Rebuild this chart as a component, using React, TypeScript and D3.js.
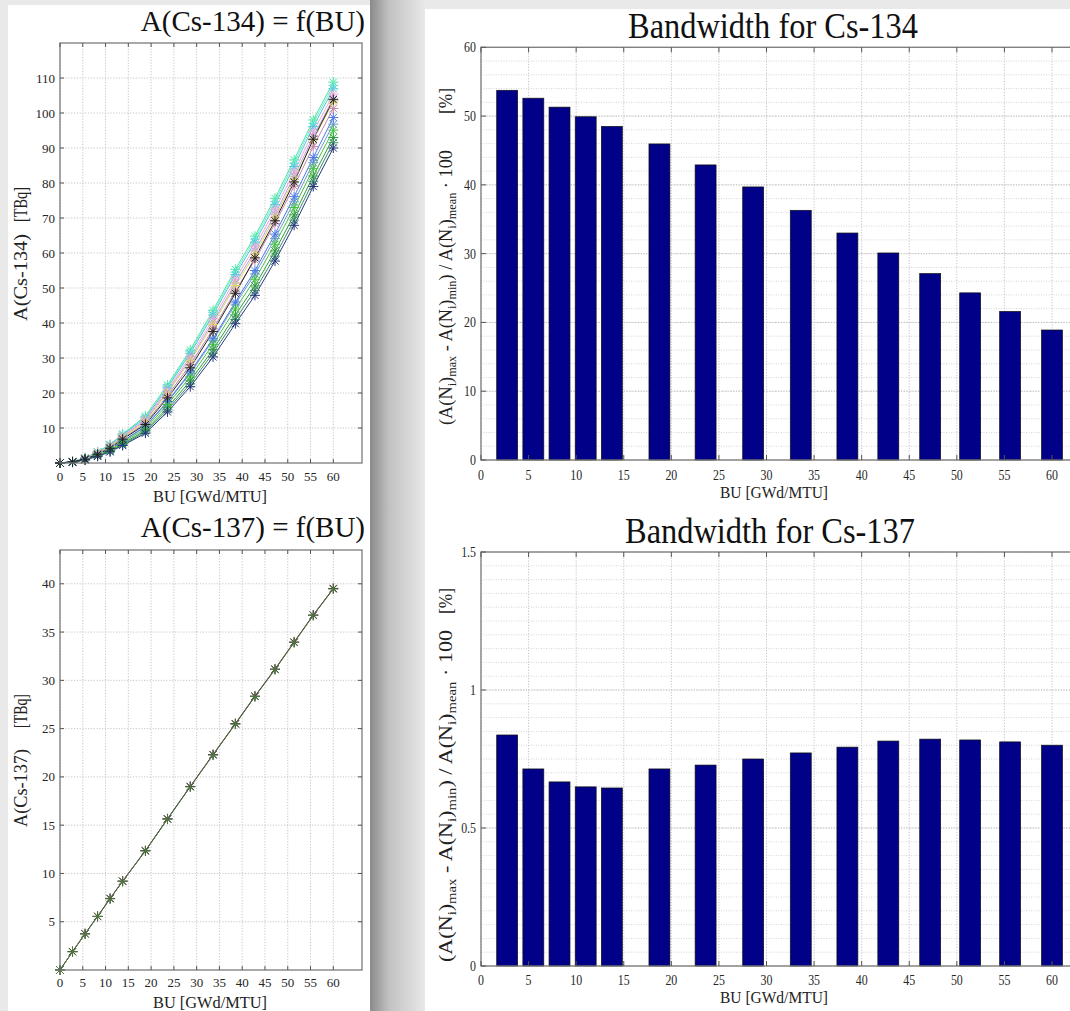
import React from "react";
import * as d3 from "d3";

const SERIF = "'Liberation Serif', 'DejaVu Serif', serif";

// ---------- data ----------
const buPoints = [0, 2.75, 5.5, 8.25, 11, 13.75, 18.75, 23.6, 28.6, 33.6, 38.5, 42.8, 47.2, 51.4, 55.6, 60];
const barBU = [2.75, 5.5, 8.25, 11, 13.75, 18.75, 23.6, 28.6, 33.6, 38.5, 42.8, 47.2, 51.4, 55.6, 60];

const cs134Bandwidth = [53.75, 52.6, 51.3, 49.9, 48.5, 45.95, 42.9, 39.7, 36.3, 33.0, 30.1, 27.1, 24.3, 21.6, 18.9];
const cs137Bandwidth = [0.837, 0.714, 0.667, 0.649, 0.645, 0.714, 0.728, 0.75, 0.772, 0.793, 0.815, 0.822, 0.819, 0.812, 0.8];

const cs134_s01 = [0, 0.42, 1.5, 3.2, 5.3, 8.3, 13.4, 22.3, 32.3, 43.6, 55.3, 64.8, 75.6, 86.6, 98.0, 108.8];
const cs134_s02 = [0, 0.41, 1.47, 3.14, 5.2, 8.14, 13.2, 21.9, 31.8, 43.0, 54.5, 64.0, 74.7, 85.7, 97.1, 107.9];
const cs134_s03 = [0, 0.4, 1.44, 3.07, 5.09, 7.97, 12.9, 21.5, 31.3, 42.3, 53.8, 63.1, 73.8, 84.7, 96.1, 106.9];
const cs134_s04 = [0, 0.39, 1.39, 2.97, 4.92, 7.71, 12.5, 20.9, 30.4, 41.2, 52.5, 61.8, 72.4, 83.2, 94.6, 105.4];
const cs134_s05 = [0, 0.38, 1.34, 2.88, 4.78, 7.48, 12.2, 20.4, 29.7, 40.3, 51.4, 60.6, 71.1, 81.9, 93.3, 104.1];
const cs134_s06 = [0, 0.37, 1.31, 2.81, 4.67, 7.31, 11.9, 20.0, 29.2, 39.6, 50.7, 59.7, 70.2, 81.0, 92.3, 103.2];
const cs134_s07 = [0, 0.35, 1.25, 2.68, 4.46, 6.98, 11.4, 19.2, 28.1, 38.3, 49.1, 58.0, 68.4, 79.1, 90.4, 101.3];
const cs134_s08 = [0, 0.3, 1.1, 2.37, 3.96, 6.19, 10.3, 17.4, 25.6, 35.1, 45.4, 54.0, 64.1, 74.6, 85.8, 96.8];
const cs134_s09 = [0, 0.31, 1.1, 2.4, 4.0, 6.3, 10.5, 17.6, 26.0, 35.5, 46.0, 55.0, 65.4, 76.1, 87.3, 98.7];
const cs134_s10 = [0, 0.29, 1.04, 2.25, 3.77, 5.89, 9.8, 16.7, 24.6, 33.9, 44.0, 52.5, 62.5, 73.0, 84.1, 95.1];
const cs134_s11 = [0, 0.27, 0.97, 2.11, 3.54, 5.53, 9.3, 15.8, 23.5, 32.4, 42.3, 50.6, 60.6, 70.9, 82.0, 93.0];
const cs134_s12 = [0, 0.25, 0.92, 2.0, 3.37, 5.26, 8.9, 15.2, 22.6, 31.4, 41.0, 49.3, 59.1, 69.4, 80.5, 91.5];
const cs134_s13 = [0, 0.24, 0.87, 1.9, 3.2, 5.0, 8.5, 14.6, 21.8, 30.3, 39.8, 47.9, 57.7, 67.9, 79.0, 90.0];
const cs134_s14 = [0, 0.33, 1.1, 2.5, 4.2, 6.8, 11.0, 18.6, 27.2, 37.6, 48.5, 58.6, 69.2, 80.3, 92.5, 103.8];

const cs134Series = [cs134_s01, cs134_s02, cs134_s03, cs134_s04, cs134_s05, cs134_s06, cs134_s07, cs134_s08, cs134_s09, cs134_s10, cs134_s11, cs134_s12, cs134_s13, cs134_s14];
const cs134Colors = ["#3fe89a", "#86e8d2", "#48c8e0", "#f2a8d2", "#b8a2e8", "#e2d860", "#c486a8", "#6c9cc8", "#4a78e8", "#44c244", "#2e9c3a", "#3a8a6a", "#28397e", "#222222"];

const cs137_pink = [0, 1.91, 3.76, 5.57, 7.42, 9.22, 12.37, 15.67, 19.02, 22.33, 25.53, 28.38, 31.18, 33.98, 36.78, 39.53];
const cs137_black = [0, 1.9, 3.75, 5.55, 7.4, 9.2, 12.35, 15.65, 19.0, 22.3, 25.5, 28.35, 31.15, 33.95, 36.75, 39.5];
const cs137_green = [0, 1.89, 3.74, 5.54, 7.38, 9.18, 12.33, 15.62, 18.97, 22.27, 25.47, 28.32, 31.12, 33.92, 36.72, 39.47];
const cs137Series = [cs137_pink, cs137_black, cs137_green];
const cs137Colors = ["#d070a8", "#303030", "#4a7a3c"];

const leftXTicks = [0, 5, 10, 15, 20, 25, 30, 35, 40, 45, 50, 55, 60];
const cs134YTicks = [10, 20, 30, 40, 50, 60, 70, 80, 90, 100, 110];
const cs137YTicks = [5, 10, 15, 20, 25, 30, 35, 40];
const barXTicks = [0, 5, 10, 15, 20, 25, 30, 35, 40, 45, 50, 55, 60, 65];
const bw134YTicks = [0, 10, 20, 30, 40, 50, 60];
const bw137YTicks = [0, 0.5, 1, 1.5];

function star(r: number) {
  const d = r * 0.72;
  return `M${-r},0H${r}M0,${-r}V${r}M${-d},${-d}L${d},${d}M${-d},${d}L${d},${-d}`;
}

function CurveChart(props: any) {
  const { top, bottom, yMax, yTicks, series, colors, title, titleY, labMain, labUnit, xTickY, xLabelY } = props;
  const x = d3.scaleLinear().domain([0, 66.3]).range([60, 362]);
  const y = d3.scaleLinear().domain([0, yMax]).range([bottom, top]);
  const line = d3.line<number>().x((_, i) => x(buPoints[i])).y((v) => y(v));
  const L = 60, R = 362;
  return (
    <g>
      {leftXTicks.map((t) => (
        <line key={"gx" + t} x1={x(t)} x2={x(t)} y1={top} y2={bottom} stroke="#c6c6c6" strokeDasharray="1.2,1.6" />
      ))}
      {yTicks.map((t: number) => (
        <line key={"gy" + t} x1={L} x2={R} y1={y(t)} y2={y(t)} stroke="#c6c6c6" strokeDasharray="1.2,1.6" />
      ))}
      {series.map((s: number[], k: number) => (
        <path key={"l" + k} d={line(s) || ""} fill="none" stroke={colors[k]} strokeWidth={1} />
      ))}
      {series.map((s: number[], k: number) =>
        s.map((v, i) => (
          <path key={"m" + k + "-" + i} transform={`translate(${x(buPoints[i])},${y(v)})`} d={star(5)} fill="none" stroke={colors[k]} strokeWidth={1} />
        ))
      )}
      <rect x={L} y={top} width={R - L} height={bottom - top} fill="none" stroke="#7c7c7c" strokeWidth={1.3} />
      {leftXTicks.map((t) => (
        <g key={"tx" + t}>
          <line x1={x(t)} x2={x(t)} y1={bottom} y2={bottom - 4} stroke="#555" />
          <line x1={x(t)} x2={x(t)} y1={top} y2={top + 4} stroke="#555" />
          <text x={x(t)} y={xTickY} textAnchor="middle" fontSize={13} fontFamily={SERIF} fill="#262626">{t}</text>
        </g>
      ))}
      {yTicks.map((t: number) => (
        <g key={"ty" + t}>
          <line x1={L} x2={L + 4} y1={y(t)} y2={y(t)} stroke="#555" />
          <line x1={R} x2={R - 4} y1={y(t)} y2={y(t)} stroke="#555" />
          <text x={55} y={y(t)} dy="0.35em" textAnchor="end" fontSize={13} fontFamily={SERIF} fill="#262626">{t}</text>
        </g>
      ))}
      <text x={365} y={titleY} textAnchor="end" fontSize={29} fontFamily={SERIF} fill="#111">{title}</text>
      <text x={210} y={xLabelY} textAnchor="middle" fontSize={16} fontFamily={SERIF} fill="#222" textLength={114} lengthAdjust="spacingAndGlyphs">BU [GWd/MTU]</text>
      <text transform={`translate(27,${labMain[0]}) rotate(-90)`} fontSize={18} fontFamily={SERIF} fill="#222" textLength={labMain[1]} lengthAdjust="spacingAndGlyphs">{labMain[2]}</text>
      <text transform={`translate(27,${labUnit[0]}) rotate(-90)`} fontSize={18} fontFamily={SERIF} fill="#222" textLength={labUnit[1]} lengthAdjust="spacingAndGlyphs">[TBq]</text>
    </g>
  );
}

function BarChart(props: any) {
  const { top, bottom, yMax, yTicks, minorStep, values, title, titleX, titleY, xTickY, xLabelY, labStart, labLen, unitStart, unitLen } = props;
  const x = d3.scaleLinear().domain([0, 60]).range([481, 1052]);
  const y = d3.scaleLinear().domain([0, yMax]).range([bottom, top]);
  const L = x(0), R = x(65);
  const bw = x(2.2) - x(0);
  const minors = d3.range(0, yMax + minorStep / 2, minorStep);
  return (
    <g>
      {minors.map((t, i) => (
        <line key={"mn" + i} x1={L} x2={R} y1={y(t)} y2={y(t)} stroke="#d4d4d4" strokeDasharray="1,1.5" />
      ))}
      {barXTicks.map((t) => (
        <line key={"gx" + t} x1={x(t)} x2={x(t)} y1={top} y2={bottom} stroke="#c4c4c4" strokeDasharray="1.2,1.6" />
      ))}
      {yTicks.map((t: number) => (
        <line key={"gy" + t} x1={L} x2={R} y1={y(t)} y2={y(t)} stroke="#bdbdbd" strokeDasharray="1.2,1.6" />
      ))}
      {values.map((v: number, i: number) => (
        <rect key={"b" + i} x={x(barBU[i]) - bw / 2} y={y(v)} width={bw} height={y(0) - y(v)} fill="#000088" stroke="#111" strokeWidth={0.7} />
      ))}
      <rect x={L} y={top} width={R - L} height={bottom - top} fill="none" stroke="#7c7c7c" strokeWidth={1.3} />
      {barXTicks.map((t) => (
        <g key={"tx" + t}>
          <line x1={x(t)} x2={x(t)} y1={bottom} y2={bottom - 5} stroke="#555" />
          <line x1={x(t)} x2={x(t)} y1={top} y2={top + 5} stroke="#555" />
          {t <= 60 && (
            <text transform={`translate(${x(t)},${xTickY}) scale(0.85,1)`} textAnchor="middle" fontSize={14} fontFamily={SERIF} fill="#262626">{t}</text>
          )}
        </g>
      ))}
      {yTicks.map((t: number) => (
        <g key={"ty" + t}>
          <line x1={L} x2={L + 5} y1={y(t)} y2={y(t)} stroke="#555" />
          <text transform={`translate(476,${y(t)}) scale(0.85,1)`} dy="0.35em" textAnchor="end" fontSize={14} fontFamily={SERIF} fill="#262626">{t}</text>
        </g>
      ))}
      <text x={titleX} y={titleY} textAnchor="middle" fontSize={35} fontFamily={SERIF} fill="#111" textLength={290} lengthAdjust="spacingAndGlyphs">{title}</text>
      <text x={774} y={xLabelY} textAnchor="middle" fontSize={16} fontFamily={SERIF} fill="#222" textLength={108} lengthAdjust="spacingAndGlyphs">BU [GWd/MTU]</text>
      <text transform={`translate(452,${labStart}) rotate(-90)`} fontSize={18} fontFamily={SERIF} fill="#222" textLength={labLen} lengthAdjust="spacingAndGlyphs">
        <tspan>(A(N</tspan>
        <tspan fontSize={12} dy={4}>i</tspan>
        <tspan dy={-4}>)</tspan>
        <tspan fontSize={12} dy={4}>max</tspan>
        <tspan dy={-4}> - A(N</tspan>
        <tspan fontSize={12} dy={4}>i</tspan>
        <tspan dy={-4}>)</tspan>
        <tspan fontSize={12} dy={4}>min</tspan>
        <tspan dy={-4}>) / A(N</tspan>
        <tspan fontSize={12} dy={4}>i</tspan>
        <tspan dy={-4}>)</tspan>
        <tspan fontSize={12} dy={4}>mean</tspan>
        <tspan dy={-4}> · 100</tspan>
      </text>
      <text transform={`translate(452,${unitStart}) rotate(-90)`} fontSize={18} fontFamily={SERIF} fill="#222" textLength={unitLen} lengthAdjust="spacingAndGlyphs">[%]</text>
    </g>
  );
}

export default function App() {
  return (
    <div style={{ position: "absolute", left: 0, top: 0 }}>
      <svg width={1070} height={1011} viewBox="0 0 1070 1011" style={{ display: "block" }}>
        <defs>
          <linearGradient id="shadow" x1="0" x2="1" y1="0" y2="0">
            <stop offset="0" stopColor="#8a8a8a" />
            <stop offset="0.35" stopColor="#c2c2c2" />
            <stop offset="1" stopColor="#e8e8e8" />
          </linearGradient>
        </defs>
        <rect x={0} y={0} width={1070} height={1011} fill="#e9e9e9" />
        <rect x={370} y={0} width={55} height={1011} fill="url(#shadow)" />
        <rect x={8} y={5} width={362} height={1006} fill="#ffffff" />
        <rect x={425} y={9} width={645} height={1002} fill="#ffffff" />

        <CurveChart top={43} bottom={463} yMax={120} yTicks={cs134YTicks} series={cs134Series} colors={cs134Colors}
          title="A(Cs-134) = f(BU)" titleY={31} labMain={[321, 87, "A(Cs-134)"]} labUnit={[222, 35]} xTickY={481} xLabelY={502} />
        <CurveChart top={550} bottom={970} yMax={43.5} yTicks={cs137YTicks} series={cs137Series} colors={cs137Colors}
          title="A(Cs-137) = f(BU)" titleY={537} labMain={[827, 78, "A(Cs-137)"]} labUnit={[728, 34]} xTickY={987} xLabelY={1008} />

        <BarChart top={47.3} bottom={460} yMax={60} yTicks={bw134YTicks} minorStep={2} values={cs134Bandwidth}
          title="Bandwidth for Cs-134" titleX={773} titleY={38} xTickY={480} xLabelY={498}
          labStart={425} labLen={275} unitStart={114} unitLen={26} />
        <BarChart top={552} bottom={966} yMax={1.5} yTicks={bw137YTicks} minorStep={0.05} values={cs137Bandwidth}
          title="Bandwidth for Cs-137" titleX={770} titleY={543} xTickY={985} xLabelY={1003}
          labStart={962} labLen={332} unitStart={614} unitLen={26} />
      </svg>
    </div>
  );
}
